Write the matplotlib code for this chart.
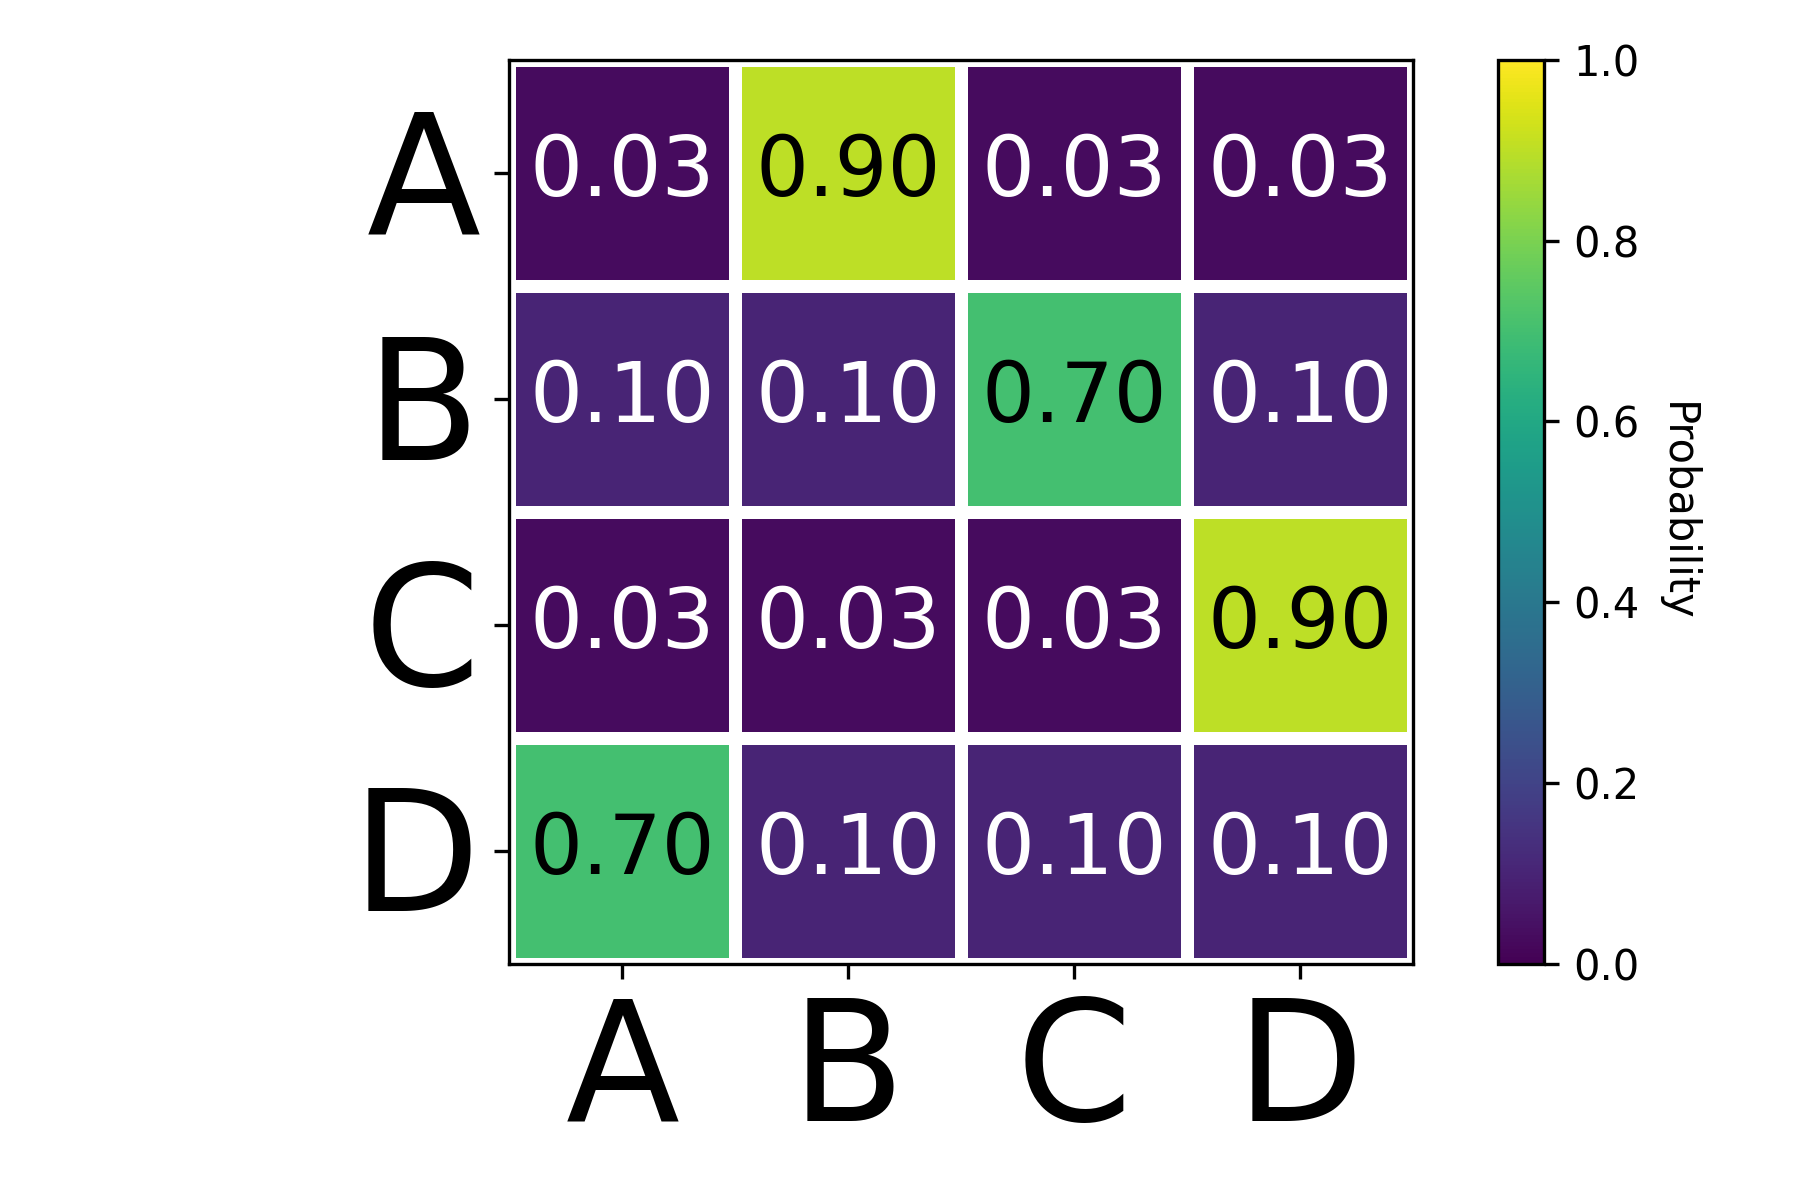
import numpy as np
import matplotlib
matplotlib.use("Agg")
import matplotlib.pyplot as plt
import matplotlib.transforms as mtransforms
import seaborn as sns

states = ["A", "B", "C", "D"]
row_a = [0.03, 0.90, 0.03, 0.03]
row_b = [0.10, 0.10, 0.70, 0.10]
row_c = [0.03, 0.03, 0.03, 0.90]
row_d = [0.70, 0.10, 0.10, 0.10]

probs = np.array([row_a, row_b, row_c, row_d])

fig = plt.figure(figsize=(6, 4), dpi=300)
ax = fig.add_axes([0.283, 0.197, 0.502, 0.753])
cax = fig.add_axes([0.832, 0.197, 0.026, 0.753])

sns.heatmap(probs, ax=ax, cbar_ax=cax, cmap="viridis", vmin=0, vmax=1,
            linewidths=3, linecolor="white", annot=True, fmt=".2f",
            annot_kws={"size": 20},
            xticklabels=states, yticklabels=states)

# dark text on the bright cells, white elsewhere
for txt in ax.texts:
    val = float(txt.get_text())
    txt.set_color("black" if val > 0.5 else "white")

# put the frame back
for sp in ax.spines.values():
    sp.set_visible(True)
    sp.set_color("black")
    sp.set_linewidth(0.8)

ax.tick_params(axis="both", labelsize=40, length=3.5, width=0.8)
ax.set_xticklabels(states, rotation=0)
ax.set_yticklabels(states, rotation=0, va="baseline")
# centre the capital letters on the ticks
shift = mtransforms.ScaledTranslation(0, -14.6 / 72, fig.dpi_scale_trans)
for lab in ax.get_yticklabels():
    lab.set_transform(lab.get_transform() + shift)

cbar = ax.collections[0].colorbar
cbar.outline.set_visible(True)
cbar.outline.set_edgecolor("black")
cbar.outline.set_linewidth(0.8)
cbar.set_ticks([0.0, 0.2, 0.4, 0.6, 0.8, 1.0])
cax.tick_params(labelsize=10, length=3.5, width=0.8)
cbar.set_label("Probability", rotation=270, labelpad=14, fontsize=10)

fig.savefig("out.png", dpi=300)
